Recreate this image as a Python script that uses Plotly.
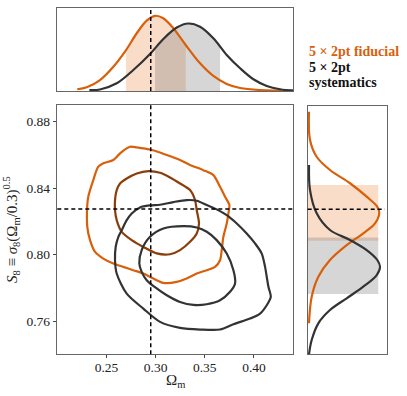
import numpy as np
import plotly.graph_objects as go

W, H = 407, 396
ORANGE = "#d9600b"
BROWN = "#8b3d0a"
DARK = "#333333"
SERIF = "Liberation Serif, Times New Roman, DejaVu Serif, serif"

# fiducial point
om_fid = 0.295
s8_fid = 0.8275

# 2D contours (Omega_m, S8)
fid_95_om = [0.274, 0.2808, 0.296, 0.3113, 0.3248, 0.335, 0.3485, 0.3587, 0.3655, 0.3706, 0.375, 0.374,
             0.3723, 0.3689, 0.3672, 0.3655, 0.3604, 0.352, 0.3418, 0.3316, 0.3215, 0.3078, 0.2977, 0.2875,
             0.2773, 0.2671, 0.257, 0.2468, 0.2384, 0.2333, 0.2305, 0.2305, 0.2315, 0.2366, 0.2417, 0.2468,
             0.257, 0.2638, 0.2706]
fid_95_s8 = [0.8649, 0.8645, 0.8629, 0.8599, 0.8569, 0.8539, 0.8508, 0.8478, 0.8408, 0.8348, 0.8298, 0.8248,
             0.8187, 0.8107, 0.8027, 0.7966, 0.7926, 0.7906, 0.7886, 0.7856, 0.7836, 0.783, 0.7856, 0.7886,
             0.7906, 0.7926, 0.7946, 0.7976, 0.8016, 0.8087, 0.8167, 0.8298, 0.8348, 0.8448, 0.8529, 0.8549,
             0.8569, 0.8609, 0.8639]

fid_68_om = [0.2926, 0.2808, 0.2706, 0.2638, 0.2604, 0.2587, 0.2587, 0.2604, 0.2655, 0.2757, 0.2875, 0.3011,
             0.3146, 0.3248, 0.335, 0.3418, 0.3441, 0.3418, 0.3401, 0.335, 0.3248, 0.3146, 0.3045]
fid_68_s8 = [0.8502, 0.8488, 0.8458, 0.8428, 0.8388, 0.8328, 0.8267, 0.8207, 0.8137, 0.8087, 0.8046, 0.8007,
             0.8002, 0.8027, 0.8077, 0.8127, 0.8187, 0.8267, 0.8328, 0.8388, 0.8428, 0.8464, 0.8492]

sys_95_om = [0.2587, 0.2594, 0.2621, 0.2655, 0.2706, 0.2757, 0.2841, 0.2943, 0.3045, 0.318, 0.3316, 0.3418,
             0.352, 0.3621, 0.3723, 0.3825, 0.3926, 0.4011, 0.4079, 0.4113, 0.413, 0.4147, 0.4171, 0.413,
             0.4062, 0.396, 0.3791, 0.3655, 0.3452, 0.3248, 0.3045, 0.2875, 0.2706, 0.2604]
sys_95_s8 = [0.7966, 0.8047, 0.8107, 0.8147, 0.8207, 0.8247, 0.8284, 0.8296, 0.83, 0.8316, 0.8328, 0.8324,
             0.8298, 0.8272, 0.8237, 0.8187, 0.8127, 0.8067, 0.8006, 0.7926, 0.7866, 0.7806, 0.7745, 0.7695,
             0.7645, 0.7615, 0.7581, 0.7549, 0.7549, 0.7559, 0.7595, 0.7675, 0.7765, 0.7886]

sys_68_om = [0.2834, 0.2858, 0.2943, 0.3079, 0.3282, 0.3418, 0.352, 0.3621, 0.3723, 0.3791, 0.3808, 0.3757,
             0.3655, 0.352, 0.3384, 0.3248, 0.3113, 0.3011, 0.2909, 0.2858]
sys_68_s8 = [0.7946, 0.8027, 0.8107, 0.8157, 0.8171, 0.8163, 0.8137, 0.8087, 0.8006, 0.7906, 0.7826, 0.7776,
             0.7725, 0.7701, 0.7697, 0.7715, 0.7755, 0.7796, 0.7846, 0.7896]

# 1D marginal of Omega_m (top panel)
fid_om_x = [0.2203, 0.2299, 0.2434, 0.257, 0.2699, 0.2808, 0.2909, 0.2994, 0.3078, 0.318, 0.3306, 0.3452,
            0.3587, 0.3723, 0.3859, 0.4062, 0.44]
fid_om_p = [0.023, 0.049, 0.146, 0.323, 0.545, 0.768, 0.935, 1.0, 0.967, 0.834, 0.612, 0.368,
            0.2, 0.093, 0.04, 0.013, 0.004]
sys_om_x = [0.2326, 0.2434, 0.2604, 0.2773, 0.2943, 0.3078, 0.3215, 0.3333, 0.3452, 0.3587, 0.3723, 0.3859,
            0.3994, 0.413, 0.4266, 0.44]
sys_om_p = [0.013, 0.02, 0.102, 0.279, 0.492, 0.692, 0.845, 0.898, 0.855, 0.701, 0.479, 0.302,
            0.156, 0.067, 0.023, 0.004]
fid_om_band = [0.2699, 0.3306]
sys_om_band = [0.2994, 0.3655]

# 1D marginal of S8 (right panel)
fid_s8_y = [0.8864, 0.8693, 0.8592, 0.8512, 0.8432, 0.8351, 0.829, 0.8251, 0.819, 0.813, 0.8059, 0.7969,
            0.7868, 0.7747, 0.7587]
fid_s8_p = [0.018, 0.032, 0.124, 0.308, 0.585, 0.815, 0.962, 0.989, 0.93, 0.768, 0.539, 0.308,
            0.147, 0.055, 0.018]
sys_s8_y = [0.8542, 0.8391, 0.8251, 0.815, 0.809, 0.8029, 0.7969, 0.7928, 0.7878, 0.7808, 0.7738, 0.7667,
            0.7587, 0.7486, 0.74]
sys_s8_p = [0.018, 0.032, 0.124, 0.308, 0.585, 0.815, 0.962, 0.999, 0.954, 0.768, 0.539, 0.308,
            0.147, 0.055, 0.018]
fid_s8_band = [0.8085, 0.8421]
sys_s8_band = [0.7764, 0.8105]
s8_band_width = 0.975

om_range = [0.2, 0.44]
s8_range = [0.74, 0.89]


def closed(a):
    return list(a) + [a[0]]


def band_fill(x, p, lo, hi):
    xs = [lo] + [v for v in x if lo < v < hi] + [hi]
    ps = np.interp(xs, x, p)
    return xs, ps


fig = go.Figure()

# main panel
for om, s8, col in [(fid_95_om, fid_95_s8, ORANGE), (fid_68_om, fid_68_s8, BROWN),
                    (sys_95_om, sys_95_s8, DARK), (sys_68_om, sys_68_s8, DARK)]:
    fig.add_trace(go.Scatter(x=closed(om), y=closed(s8), mode="lines",
                             line=dict(color=col, width=2.2, shape="spline", smoothing=0.8),
                             xaxis="x", yaxis="y", hoverinfo="skip"))

# top panel: shaded 68% regions + curves
for x, p, band, fill in [(fid_om_x, fid_om_p, fid_om_band, "rgba(230,120,40,0.25)"),
                         (sys_om_x, sys_om_p, sys_om_band, "rgba(120,120,120,0.3)")]:
    bx, bp = band_fill(x, p, *band)
    fig.add_trace(go.Scatter(x=bx, y=bp, mode="lines", line=dict(width=0), fill="tozeroy",
                             fillcolor=fill, xaxis="x2", yaxis="y2", hoverinfo="skip"))
fig.add_trace(go.Scatter(x=fid_om_x, y=fid_om_p, mode="lines",
                         line=dict(color=ORANGE, width=2.2, shape="spline"), xaxis="x2", yaxis="y2"))
fig.add_trace(go.Scatter(x=sys_om_x, y=sys_om_p, mode="lines",
                         line=dict(color=DARK, width=2.2, shape="spline"), xaxis="x2", yaxis="y2"))

# right panel: shaded bands + curves
for band, fill in [(fid_s8_band, "rgba(230,120,40,0.25)"), (sys_s8_band, "rgba(120,120,120,0.3)")]:
    fig.add_trace(go.Scatter(x=[0, s8_band_width, s8_band_width, 0, 0],
                             y=[band[0], band[0], band[1], band[1], band[0]],
                             mode="lines", line=dict(width=0), fill="toself", fillcolor=fill,
                             xaxis="x3", yaxis="y3", hoverinfo="skip"))
fig.add_trace(go.Scatter(x=fid_s8_p, y=fid_s8_y, mode="lines",
                         line=dict(color=ORANGE, width=2.2, shape="spline"), xaxis="x3", yaxis="y3"))
fig.add_trace(go.Scatter(x=sys_s8_p, y=sys_s8_y, mode="lines",
                         line=dict(color=DARK, width=2.2, shape="spline"), xaxis="x3", yaxis="y3"))

# fiducial dashed lines
dash = dict(color="black", width=1.5, dash="4px,3px")
fig.add_shape(type="line", xref="x", yref="y domain", x0=om_fid, x1=om_fid, y0=0, y1=1, line=dash)
fig.add_shape(type="line", xref="x domain", yref="y", x0=0, x1=1, y0=s8_fid, y1=s8_fid, line=dash)
fig.add_shape(type="line", xref="x2", yref="y2 domain", x0=om_fid, x1=om_fid, y0=0, y1=1, line=dash)
fig.add_shape(type="line", xref="x3 domain", yref="y3", x0=0, x1=0.97, y0=s8_fid, y1=s8_fid, line=dash)


def px_x(v):
    return v / W


def px_y(v):
    return 1 - v / H


frame = dict(showline=True, linecolor="#666", linewidth=1, mirror=True, showgrid=False, zeroline=False)
tickfont = dict(family=SERIF, size=13.5, color="#222")

fig.update_layout(
    width=W, height=H, margin=dict(l=0, r=0, t=0, b=0),
    paper_bgcolor="white", plot_bgcolor="white", showlegend=False,
    xaxis=dict(domain=[px_x(57.3), px_x(293.3)], range=om_range, anchor="y",
               tickvals=[0.25, 0.30, 0.35, 0.40], ticktext=["0.25", "0.30", "0.35", "0.40"],
               ticks="outside", ticklen=3, tickcolor="#444", tickfont=tickfont,
               ticklabelstandoff=-3, **frame),
    yaxis=dict(domain=[px_y(354.3), px_y(105)], range=s8_range, anchor="x",
               tickvals=[0.76, 0.80, 0.84, 0.88], ticktext=["0.76", "0.80", "0.84", "0.88"],
               ticks="outside", ticklen=3.5, tickcolor="#444", tickfont=tickfont,
               title=dict(text="<i>S</i><sub>8</sub> ≡ <i>σ</i><sub>8</sub>(Ω<sub>m</sub>/0.3)<sup>0.5</sup>",
                          font=dict(family=SERIF, size=15, color="#222"), standoff=5),
               **frame),
    xaxis2=dict(domain=[px_x(57.3), px_x(293.3)], range=om_range, anchor="y2",
                showticklabels=False, ticks="", **frame),
    yaxis2=dict(domain=[px_y(91), px_y(8.3)], range=[0, 1.1], anchor="x2",
                showticklabels=False, ticks="", **frame),
    xaxis3=dict(domain=[px_x(307.7), px_x(387.3)], range=[0, 1.1], anchor="y3",
                showticklabels=False, ticks="", **frame),
    yaxis3=dict(domain=[px_y(354.3), px_y(105.7)], range=s8_range, anchor="x3",
                showticklabels=False, ticks="", **frame),
)

# x-axis title placed close under the tick labels
fig.add_annotation(text="Ω<sub>m</sub>", xref="x domain", yref="paper", x=0.5, y=px_y(381),
                   xanchor="center", yanchor="middle", showarrow=False,
                   font=dict(family=SERIF, size=15, color="#222"))

# legend text
legend_lines = [("5 × 2pt fiducial", ORANGE, 52), ("5 × 2pt", "#111", 67), ("systematics", "#111", 82)]
for txt, col, y in legend_lines:
    fig.add_annotation(text="<b>" + txt + "</b>", xref="paper", yref="paper", x=px_x(307), y=px_y(y),
                       xanchor="left", yanchor="middle", showarrow=False,
                       font=dict(family=SERIF, size=14, color=col))

fig.write_html("out.html", config={"displayModeBar": False},
               post_script="document.body.style.margin='0';")
